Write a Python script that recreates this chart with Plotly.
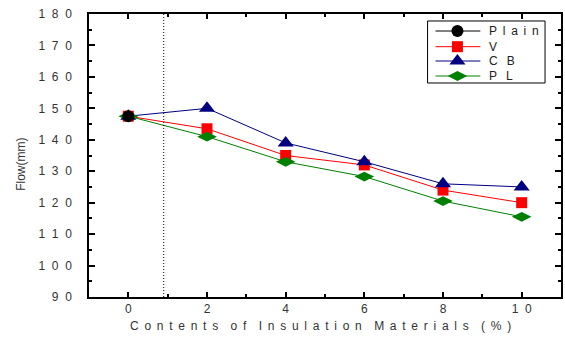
import plotly.graph_objects as go

contents = [0, 2, 4, 6, 8, 10]
plain_x = [0]
plain_y = [147.5]
v_vals = [147.5, 143.5, 135.0, 132.0, 124.0, 120.0]
cb_vals = [147.5, 150.0, 139.0, 133.0, 126.0, 125.0]
pl_vals = [147.5, 141.0, 133.0, 128.3, 120.5, 115.5]

y_ticks = [90, 100, 110, 120, 130, 140, 150, 160, 170, 180]
x_ticks = [0, 2, 4, 6, 8, 10]
dotted_x = 0.9

NB = "\u00a0"
TH = "\u2009"
SP = NB + TH          # letter gap


def spaced(s, word_gap):
    return word_gap.join(SP.join(list(w)) for w in s.split(" "))


y_ticktext = [(NB * 2).join(str(v)) for v in y_ticks]
x_ticktext = [(NB * 2).join(str(v)) for v in x_ticks]

FAM = "Liberation Sans, Arial, sans-serif"
font = dict(family=FAM, size=12, color="#333333")

series = [
    ("Plain", plain_x, plain_y, "#000000", "circle", 12),
    ("V", contents, v_vals, "#FF0000", "square", 11),
    ("C B", contents, cb_vals, "#000080", "triangle-up", 14),
    ("P L", contents, pl_vals, "#008000", "diamond-wide", 14),
]

fig = go.Figure()
# draw V, CB, PL first, Plain on top
for name, xs, ys, col, sym, size in series[1:] + series[:1]:
    fig.add_trace(go.Scatter(x=xs, y=ys, name=name, mode="lines+markers",
                             line=dict(color=col, width=1),
                             marker=dict(symbol=sym, size=size, color=col),
                             showlegend=False))

fig.add_shape(type="line", x0=dotted_x, x1=dotted_x, y0=0, y1=1, xref="x", yref="paper",
              line=dict(color="#000000", width=1, dash="1px,2px"))

# custom legend (box geometry in axis-domain fractions)
leg_x0, leg_x1, leg_y0, leg_y1 = 0.7173, 0.9662, 0.7562, 0.9753
line_x0, line_x1, mark_x, text_x = 0.7342, 0.8291, 0.7806, 0.8439
row_y = [0.9399, 0.8845, 0.8339, 0.7809]

fig.add_shape(type="rect", x0=leg_x0, x1=leg_x1, y0=leg_y0, y1=leg_y1,
              xref="paper", yref="paper", line=dict(color="#000000", width=1),
              fillcolor="white", layer="below")
for (name, xs, ys, col, sym, size), ry in zip(series, row_y):
    fig.add_shape(type="line", x0=line_x0, x1=line_x1, y0=ry, y1=ry,
                  xref="paper", yref="paper", line=dict(color=col, width=1), layer="below")
    fig.add_trace(go.Scatter(x=[mark_x], y=[ry], xaxis="x2", yaxis="y2", mode="markers",
                             marker=dict(symbol=sym, size=size, color=col),
                             showlegend=False, hoverinfo="skip", cliponaxis=False))
    fig.add_annotation(x=text_x, y=ry, xref="paper", yref="paper",
                       text=spaced(name, NB + SP),
                       showarrow=False, xanchor="left", yanchor="middle",
                       font=dict(family=FAM, size=12, color="#222222"))

# axis titles
fig.add_annotation(x=0.4895, y=-0.1025, xref="paper", yref="paper",
                   text=spaced("Contents of Insulation Materials (%)", NB * 3 + TH),
                   showarrow=False, xanchor="center", yanchor="middle",
                   font=dict(family=FAM, size=12, color="#333333"))
fig.add_annotation(x=-0.1456, y=0.468, xref="paper", yref="paper", text="Flow(mm)",
                   textangle=-90, showarrow=False, xanchor="center", yanchor="middle",
                   font=dict(family=FAM, size=12, color="#333333"))

fig.update_layout(
    width=565, height=339,
    margin=dict(l=89, r=2, t=14, b=42),
    paper_bgcolor="white", plot_bgcolor="white",
    font=font,
    showlegend=False,
    xaxis2=dict(overlaying="x", range=[0, 1], visible=False),
    yaxis2=dict(overlaying="y", range=[0, 1], visible=False),
)
fig.layout.xaxis.update(range=[-1, 11], tickvals=x_ticks, ticktext=x_ticktext,
                        ticks="inside", ticklen=5, tickwidth=1.5, tickcolor="#000000",
                        tickfont=dict(family=FAM, size=12, color="#333333"),
                        minor=dict(dtick=1, ticks="inside", ticklen=3, tickcolor="#000000"),
                        showline=True, linecolor="#000000", linewidth=1.5, mirror="ticks",
                        showgrid=False, zeroline=False)
fig.layout.yaxis.update(range=[90, 180], tickvals=y_ticks, ticktext=y_ticktext,
                        ticks="inside", ticklen=6, tickwidth=1.5, tickcolor="#000000",
                        ticklabelstandoff=13,
                        tickfont=dict(family=FAM, size=12, color="#333333"),
                        minor=dict(dtick=5, tick0=90, ticks="inside", ticklen=3, tickcolor="#000000"),
                        showline=True, linecolor="#000000", linewidth=1.5, mirror="ticks",
                        showgrid=False, zeroline=False)

fig.write_html("out.html")
